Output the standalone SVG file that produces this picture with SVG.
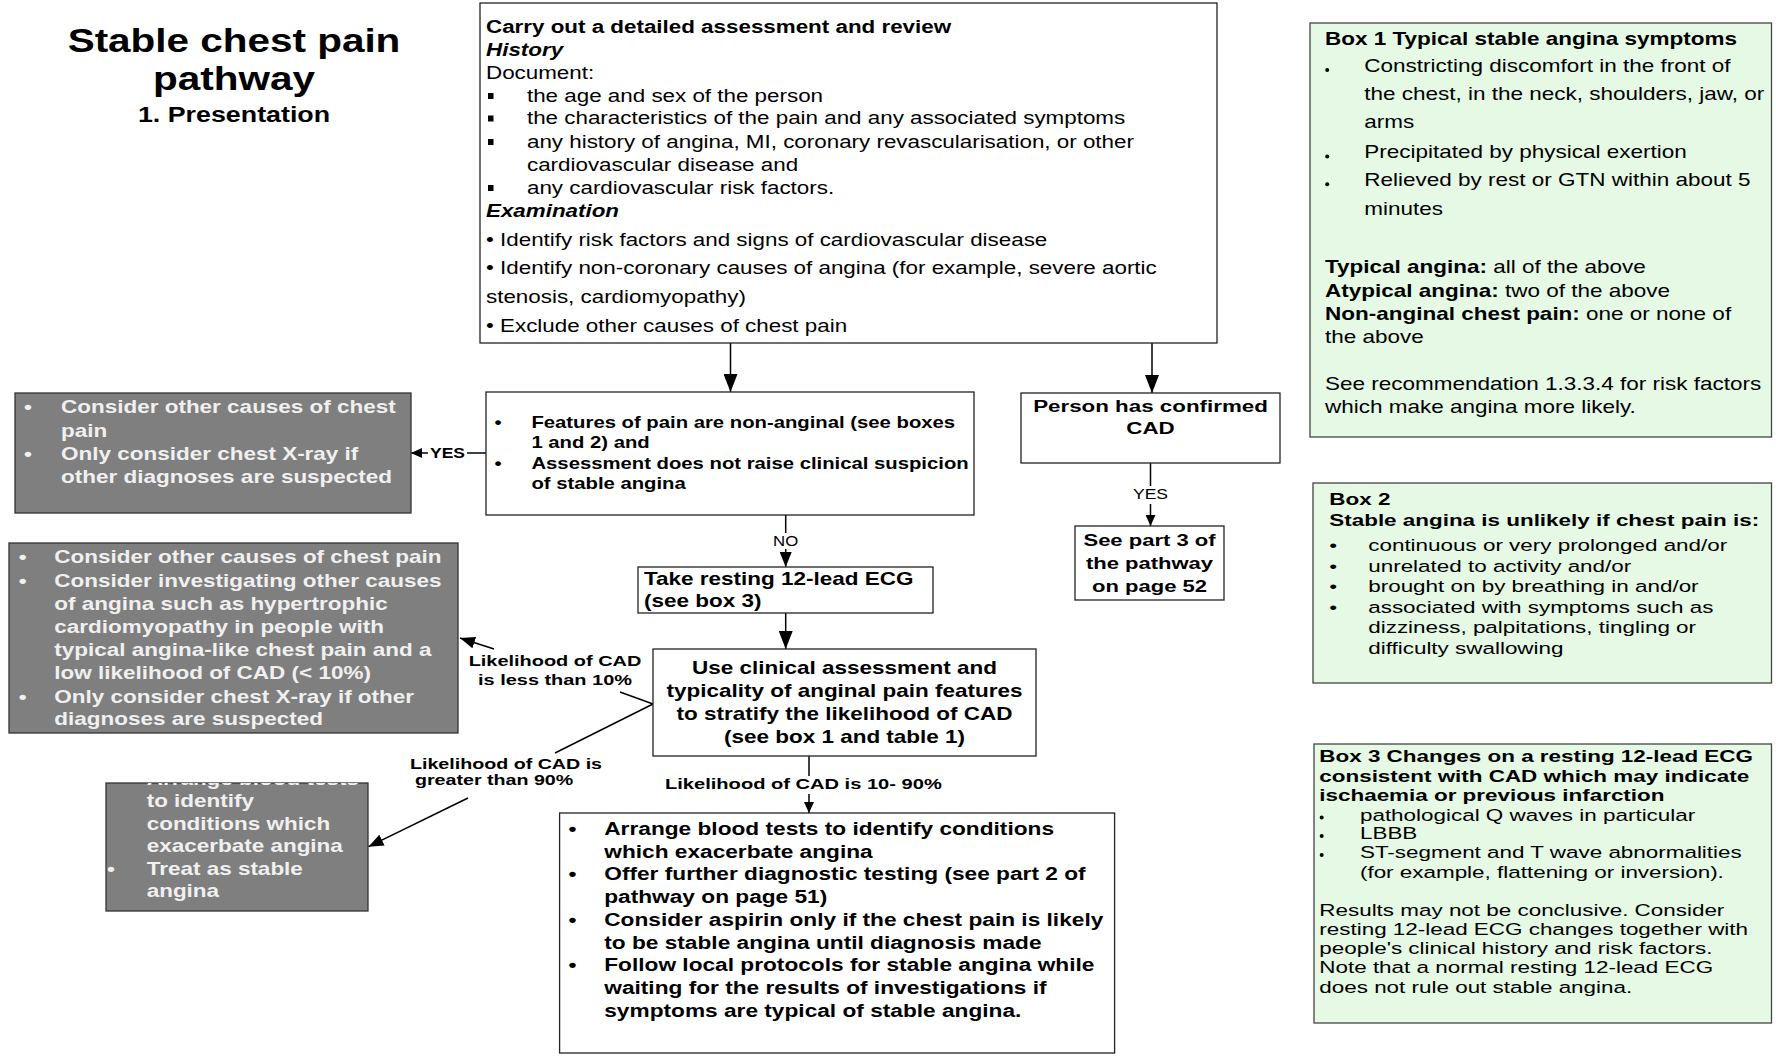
<svg xmlns="http://www.w3.org/2000/svg" width="1776" height="1056" viewBox="0 0 1776 1056">
<style>
text{font-family:"Liberation Sans",Arial,Helvetica,sans-serif;fill:#000}
.b{font-weight:bold}
.bi{font-weight:bold;font-style:italic}
.w{fill:#f0f0f0}
.box{fill:#fff;stroke:#222;stroke-width:1.3}
.grey{fill:#7f7f7f;stroke:#333;stroke-width:1.3}
.green{fill:#e5f9e5;stroke:#444;stroke-width:1.3}
.ln{stroke:#000;stroke-width:1.5;fill:none}
.lab{fill:#fff}
.dot{fill:#000}
</style>
<defs>
<marker id="big" viewBox="0 0 18 14" refX="18" refY="7" markerWidth="18" markerHeight="14" markerUnits="userSpaceOnUse" orient="auto"><path d="M0,0 L18,7 L0,14 z" fill="#000"/></marker>
<marker id="med" viewBox="0 0 15 12" refX="15" refY="6" markerWidth="15" markerHeight="12" markerUnits="userSpaceOnUse" orient="auto"><path d="M0,0 L15,6 L0,12 z" fill="#000"/></marker>
<marker id="sm" viewBox="0 0 11 10" refX="11" refY="5" markerWidth="11" markerHeight="10" markerUnits="userSpaceOnUse" orient="auto"><path d="M0,0 L11,5 L0,10 z" fill="#000"/></marker>
<clipPath id="clip3"><rect x="106" y="783" width="262" height="128"/></clipPath>
</defs>
<rect x="0" y="0" width="1776" height="1056" fill="#fff"/>

<g id="title">
<text class="b" font-size="34" text-anchor="middle" transform="translate(234,0) scale(1.19,1)"><tspan x="0" y="52">Stable chest pain</tspan><tspan x="0" y="90">pathway</tspan></text>
<text class="b" font-size="22" text-anchor="middle" transform="translate(234,122) scale(1.22,1)">1. Presentation</text>
</g>

<g id="connectors">
<line class="ln" x1="730.5" y1="343" x2="730.5" y2="392" marker-end="url(#big)"/>
<line class="ln" x1="1152" y1="343" x2="1152" y2="393" marker-end="url(#big)"/>
<line class="ln" x1="486" y1="453" x2="411" y2="453" marker-end="url(#sm)"/>
<rect class="lab" x="428" y="444" width="39" height="17"/>
<text class="b" font-size="14" text-anchor="middle" transform="translate(447.5,457.7) scale(1.25,1)">YES</text>
<line class="ln" x1="785.7" y1="515" x2="785.7" y2="567" marker-end="url(#med)"/>
<rect class="lab" x="772" y="533" width="27" height="16"/>
<text font-size="14" text-anchor="middle" transform="translate(785.7,546) scale(1.2,1)">NO</text>
<line class="ln" x1="785.7" y1="613" x2="785.7" y2="649" marker-end="url(#big)"/>
<line class="ln" x1="1150.5" y1="463" x2="1150.5" y2="526" marker-end="url(#sm)"/>
<rect class="lab" x="1131" y="486" width="39" height="18"/>
<text font-size="14" text-anchor="middle" transform="translate(1150.5,499.3) scale(1.25,1)">YES</text>
<line class="ln" x1="653" y1="704" x2="620" y2="692"/>
<line class="ln" x1="494" y1="649" x2="460" y2="638" marker-end="url(#med)"/>
<text class="b" font-size="15" text-anchor="middle" transform="translate(555,0) scale(1.33,1)"><tspan x="0" y="665.7">Likelihood of CAD</tspan><tspan x="0" y="685">is less than 10%</tspan></text>
<line class="ln" x1="653" y1="704" x2="555" y2="753"/>
<line class="ln" x1="468" y1="798" x2="368.5" y2="846.7" marker-end="url(#med)"/>
<text class="b" font-size="15" transform="translate(410,0) scale(1.31,1)"><tspan x="0" y="768.8">Likelihood of CAD is</tspan><tspan x="3.8" y="785.5">greater than 90%</tspan></text>
<line class="ln" x1="809" y1="756" x2="809" y2="813" marker-end="url(#sm)"/>
<rect class="lab" x="662" y="776" width="284" height="18"/>
<text class="b" font-size="15" transform="translate(665,789.3) scale(1.34,1)">Likelihood of CAD is 10- 90%</text>
</g>

<g id="assessment">
<rect class="box" x="480" y="3" width="737" height="340"/>
<text font-size="17.5" transform="translate(486,0) scale(1.28,1)">
<tspan class="b" x="0" y="33">Carry out a detailed assessment and review</tspan>
<tspan class="bi" x="0" y="56">History</tspan>
<tspan x="0" y="79">Document:</tspan>
<tspan x="32" y="102">the age and sex of the person</tspan>
<tspan x="32" y="124.5">the characteristics of the pain and any associated symptoms</tspan>
<tspan x="32" y="148">any history of angina, MI, coronary revascularisation, or other</tspan>
<tspan x="32" y="171">cardiovascular disease and</tspan>
<tspan x="32" y="194">any cardiovascular risk factors.</tspan>
<tspan class="bi" x="0" y="217">Examination</tspan>
<tspan x="0" y="246">• Identify risk factors and signs of cardiovascular disease</tspan>
<tspan x="0" y="274.5">• Identify non-coronary causes of angina (for example, severe aortic</tspan>
<tspan x="0" y="303">stenosis, cardiomyopathy)</tspan>
<tspan x="0" y="332">• Exclude other causes of chest pain</tspan>
</text>
<rect x="488" y="93" width="5.5" height="6"/>
<rect x="488" y="115.5" width="5.5" height="6"/>
<rect x="488" y="139" width="5.5" height="6"/>
<rect x="488" y="185" width="5.5" height="6"/>
</g>

<g id="non-anginal">
<rect class="box" x="486" y="392" width="488" height="123"/>
<text class="b" font-size="16.3" transform="translate(486,0) scale(1.245,1)">
<tspan x="6.9" y="428">•</tspan><tspan x="36.5" y="428">Features of pain are non-anginal (see boxes</tspan>
<tspan x="36.5" y="448.5">1 and 2) and</tspan>
<tspan x="6.9" y="469">•</tspan><tspan x="36.5" y="469">Assessment does not raise clinical suspicion</tspan>
<tspan x="36.5" y="489.5">of stable angina</tspan>
</text>
</g>

<g id="other-causes-1">
<rect class="grey" x="15" y="393" width="396" height="120"/>
<text class="b w" font-size="18.6" transform="translate(15,0) scale(1.21,1)">
<tspan x="7.4" y="413.3">•</tspan><tspan x="38" y="413.3">Consider other causes of chest</tspan>
<tspan x="38" y="436.7">pain</tspan>
<tspan x="7.4" y="460">•</tspan><tspan x="38" y="460">Only consider chest X-ray if</tspan>
<tspan x="38" y="483.3">other diagnoses are suspected</tspan>
</text>
</g>

<g id="other-causes-2">
<rect class="grey" x="9" y="543" width="449" height="190"/>
<text class="b w" font-size="18.6" transform="translate(9,0) scale(1.21,1)">
<tspan x="8" y="563.3">•</tspan><tspan x="37.4" y="563.3">Consider other causes of chest pain</tspan>
<tspan x="8" y="586.7">•</tspan><tspan x="37.4" y="586.7">Consider investigating other causes</tspan>
<tspan x="37.4" y="610">of angina such as hypertrophic</tspan>
<tspan x="37.4" y="632.7">cardiomyopathy in people with</tspan>
<tspan x="37.4" y="656">typical angina-like chest pain and a</tspan>
<tspan x="37.4" y="679.3">low likelihood of CAD (&lt; 10%)</tspan>
<tspan x="8" y="702.7">•</tspan><tspan x="37.4" y="702.7">Only consider chest X-ray if other</tspan>
<tspan x="37.4" y="725">diagnoses are suspected</tspan>
</text>
</g>

<g id="treat-stable">
<rect class="grey" x="106" y="783" width="262" height="128"/>
<g clip-path="url(#clip3)">
<text class="b w" font-size="18.6" transform="translate(106,0) scale(1.21,1)">
<tspan x="0.8" y="785">•</tspan><tspan x="33.6" y="785">Arrange blood tests</tspan>
<tspan x="33.6" y="807.5">to identify</tspan>
<tspan x="33.6" y="830">conditions which</tspan>
<tspan x="33.6" y="852.5">exacerbate angina</tspan>
<tspan x="0.8" y="875">•</tspan><tspan x="33.6" y="875">Treat as stable</tspan>
<tspan x="33.6" y="897.5">angina</tspan>
</text>
</g>
</g>

<g id="ecg">
<rect class="box" x="638" y="567" width="295" height="46"/>
<text class="b" font-size="18.6" transform="translate(644,0) scale(1.21,1)"><tspan x="0" y="585">Take resting 12-lead ECG</tspan><tspan x="0" y="607.3">(see box 3)</tspan></text>
</g>

<g id="stratify">
<rect class="box" x="653" y="649" width="383" height="107"/>
<text class="b" font-size="18.2" text-anchor="middle" transform="translate(844.5,0) scale(1.236,1)"><tspan x="0" y="674">Use clinical assessment and</tspan><tspan x="0" y="697.3">typicality of anginal pain features</tspan><tspan x="0" y="720">to stratify the likelihood of CAD</tspan><tspan x="0" y="742.7">(see box 1 and table 1)</tspan></text>
</g>

<g id="confirmed-cad">
<rect class="box" x="1021" y="393" width="259" height="70"/>
<text class="b" font-size="17.2" text-anchor="middle" transform="translate(1150.5,0) scale(1.3,1)"><tspan x="0" y="411.7">Person has confirmed</tspan><tspan x="0" y="434">CAD</tspan></text>
</g>

<g id="part3">
<rect class="box" x="1075" y="526" width="149" height="74"/>
<text class="b" font-size="17.2" text-anchor="middle" transform="translate(1149.5,0) scale(1.28,1)"><tspan x="0" y="545.7">See part 3 of</tspan><tspan x="0" y="569">the pathway</tspan><tspan x="0" y="591.7">on page 52</tspan></text>
</g>

<g id="further-testing">
<rect class="box" x="559.6" y="813" width="555" height="240"/>
<text class="b" font-size="18.6" transform="translate(559.6,0) scale(1.22,1)">
<tspan x="7.4" y="835">•</tspan><tspan x="36.6" y="835">Arrange blood tests to identify conditions</tspan>
<tspan x="36.6" y="857.75">which exacerbate angina</tspan>
<tspan x="7.4" y="880.5">•</tspan><tspan x="36.6" y="880.5">Offer further diagnostic testing (see part 2 of</tspan>
<tspan x="36.6" y="903.25">pathway on page 51)</tspan>
<tspan x="7.4" y="926">•</tspan><tspan x="36.6" y="926">Consider aspirin only if the chest pain is likely</tspan>
<tspan x="36.6" y="948.75">to be stable angina until diagnosis made</tspan>
<tspan x="7.4" y="971.5">•</tspan><tspan x="36.6" y="971.5">Follow local protocols for stable angina while</tspan>
<tspan x="36.6" y="994.25">waiting for the results of investigations if</tspan>
<tspan x="36.6" y="1017">symptoms are typical of stable angina.</tspan>
</text>
</g>

<g id="box1">
<rect class="green" x="1310" y="23" width="461.5" height="414"/>
<text font-size="17.5" transform="translate(1325,0) scale(1.286,1)">
<tspan class="b" x="0" y="45">Box 1 Typical stable angina symptoms</tspan>
<tspan x="30.6" y="71.7">Constricting discomfort in the front of</tspan>
<tspan x="30.6" y="100">the chest, in the neck, shoulders, jaw, or</tspan>
<tspan x="30.6" y="128.3">arms</tspan>
<tspan x="30.6" y="158.3">Precipitated by physical exertion</tspan>
<tspan x="30.6" y="186">Relieved by rest or GTN within about 5</tspan>
<tspan x="30.6" y="215">minutes</tspan>
<tspan class="b" x="0" y="273.3">Typical angina:</tspan><tspan> all of the above</tspan>
<tspan class="b" x="0" y="296.7">Atypical angina:</tspan><tspan>  two of the above</tspan>
<tspan class="b" x="0" y="320">Non-anginal chest pain:</tspan><tspan> one or none of</tspan>
<tspan x="0" y="343.3">the above</tspan>
<tspan x="0" y="390">See recommendation 1.3.3.4 for risk factors</tspan>
<tspan x="0" y="413.3">which make angina more likely.</tspan>
</text>
<circle class="dot" cx="1327.2" cy="70" r="2"/>
<circle class="dot" cx="1327.2" cy="156.6" r="2"/>
<circle class="dot" cx="1327.2" cy="184.3" r="2"/>
</g>

<g id="box2">
<rect class="green" x="1313" y="483" width="458.5" height="200"/>
<text font-size="17" transform="translate(1329.3,0) scale(1.32,1)">
<tspan class="b" x="0" y="505">Box 2</tspan>
<tspan class="b" x="0" y="525.7">Stable angina is unlikely if chest pain is:</tspan>
<tspan x="0" y="551">•</tspan><tspan x="29.5" y="551">continuous or very prolonged and/or</tspan>
<tspan x="0" y="571.7">•</tspan><tspan x="29.5" y="571.7">unrelated to activity and/or</tspan>
<tspan x="0" y="591.7">•</tspan><tspan x="29.5" y="591.7">brought on by breathing in and/or</tspan>
<tspan x="0" y="612.7">•</tspan><tspan x="29.5" y="612.7">associated with symptoms such as</tspan>
<tspan x="29.5" y="633.3">dizziness, palpitations, tingling or</tspan>
<tspan x="29.5" y="654">difficulty swallowing</tspan>
</text>
</g>

<g id="box3">
<rect class="green" x="1314" y="744" width="457.5" height="279"/>
<text font-size="17" transform="translate(1319.3,0) scale(1.32,1)">
<tspan class="b" x="0" y="762.3">Box 3 Changes on a resting 12-lead ECG</tspan>
<tspan class="b" x="0" y="781.7">consistent with CAD which may indicate</tspan>
<tspan class="b" x="0" y="800.7">ischaemia or previous infarction</tspan>
<tspan x="30.8" y="820.7">pathological Q waves in particular</tspan>
<tspan x="30.8" y="839.3">LBBB</tspan>
<tspan x="30.8" y="858.3">ST-segment and T wave abnormalities</tspan>
<tspan x="30.8" y="877.7">(for example, flattening or inversion).</tspan>
<tspan x="0" y="916">Results may not be conclusive. Consider</tspan>
<tspan x="0" y="935">resting 12-lead ECG changes together with</tspan>
<tspan x="0" y="954.3">people's clinical history and risk factors.</tspan>
<tspan x="0" y="973.3">Note that a normal resting 12-lead ECG</tspan>
<tspan x="0" y="992.7">does not rule out stable angina.</tspan>
</text>
<circle class="dot" cx="1321.7" cy="817.5" r="2"/>
<circle class="dot" cx="1321.7" cy="836" r="2"/>
<circle class="dot" cx="1321.7" cy="855" r="2"/>
</g>
</svg>
